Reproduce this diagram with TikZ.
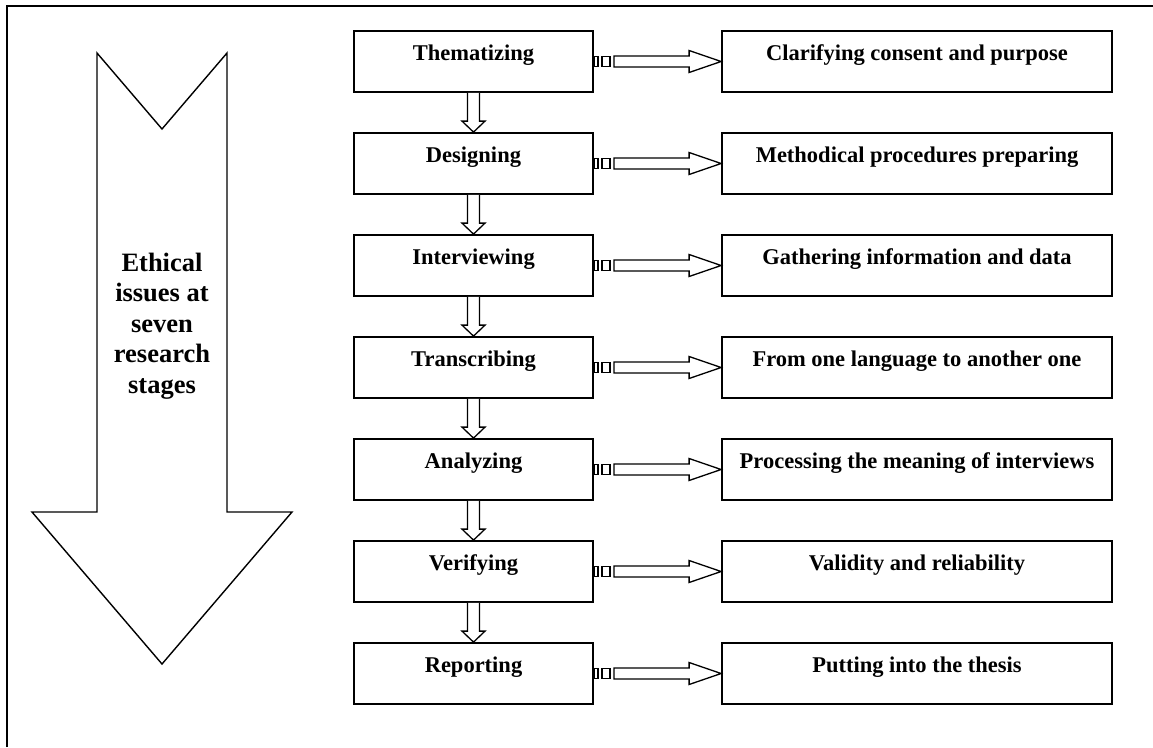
\documentclass[tikz,border=0pt]{standalone}
\usepackage{fontspec}
\setmainfont{Liberation Serif}
\usetikzlibrary{calc}
\begin{document}
\begin{tikzpicture}[x=1pt,y=-1pt,
  stagebox/.style={draw, line width=1.8pt, minimum width=239pt, inner sep=0pt,
    text height=29.5pt, text depth=31.5pt,
    font=\fontsize{22.5}{27}\selectfont\bfseries},
  notebox/.style={stagebox, minimum width=390pt},
  outline/.style={draw, line width=1.3pt, line join=miter, fill=white}]

\useasboundingbox (0,0) rectangle (1153,747);

% frame
\draw[line width=2.4pt] (7,747) -- (7,6) -- (1153,6);

% large downward arrow with its caption
\draw[line width=1.4pt, line join=miter]
  (97,53) -- (162,129) -- (227,53) -- (227,512) -- (292,512)
  -- (162,664) -- (32,512) -- (97,512) -- cycle;
\node[align=center, font=\fontsize{26.5}{30.5}\selectfont\bfseries] (caption)
  at (162,326) {Ethical\\issues at\\seven\\research\\stages};

% stages and their notes
\foreach \st/\nt [count=\i] in {
  Thematizing/Clarifying consent and purpose,
  Designing/Methodical procedures preparing,
  Interviewing/Gathering information and data,
  Transcribing/From one language to another one,
  Analyzing/Processing the meaning of interviews,
  Verifying/Validity and reliability,
  Reporting/Putting into the thesis}{
  \node[stagebox] (s\i) at (473.5,{61.5+102*(\i-1)}) {\st};
  \node[notebox] (r\i) at (917,{61.5+102*(\i-1)}) {\nt};
  % striped block arrow from stage to note
  \draw[outline] ($(s\i.east)+(0,-5)$) rectangle ($(s\i.east)+(4,5)$);
  \draw[outline] ($(s\i.east)+(8,-5)$) rectangle ($(s\i.east)+(16,5)$);
  \draw[outline] ($(s\i.east)+(20,-5.5)$) -- ($(r\i.west)+(-32,-5.5)$)
    -- ($(r\i.west)+(-32,-11)$) -- (r\i.west) -- ($(r\i.west)+(-32,11)$)
    -- ($(r\i.west)+(-32,5.5)$) -- ($(s\i.east)+(20,5.5)$) -- cycle;
}

% block arrows between consecutive stages
\foreach \i in {1,...,6}{
  \pgfmathtruncatemacro\j{\i+1}
  \draw[outline] ($(s\i.south)+(-6,0)$) -- ($(s\j.north)+(-6,-11)$)
    -- ($(s\j.north)+(-11.5,-11)$) -- (s\j.north) -- ($(s\j.north)+(11.5,-11)$)
    -- ($(s\j.north)+(6,-11)$) -- ($(s\i.south)+(6,0)$);
}
\end{tikzpicture}
\end{document}
